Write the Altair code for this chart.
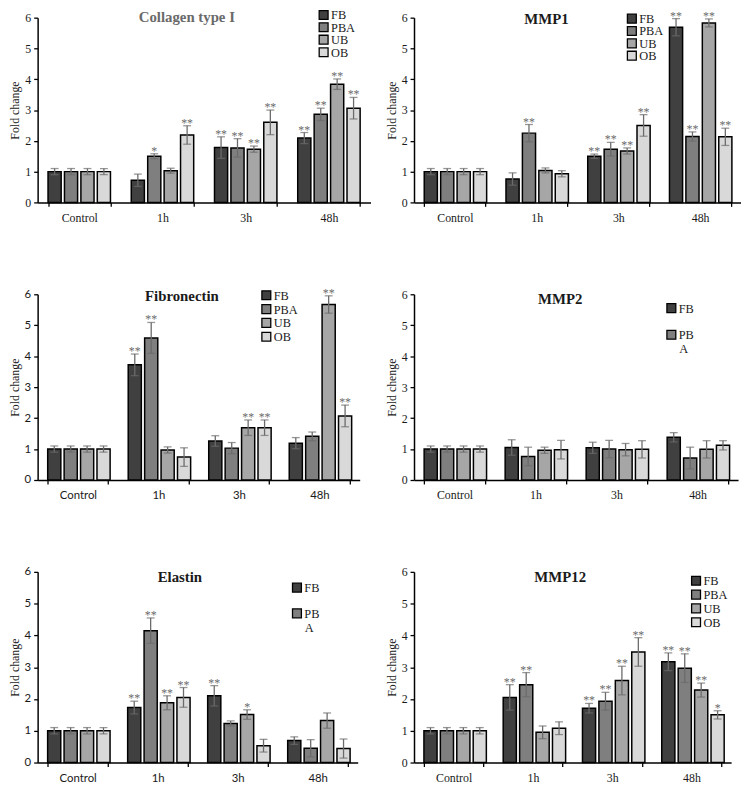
import altair as alt
import pandas as pd

times = ["Control", "1h", "3h", "48h"]
series = ["FB", "PBA", "UB", "OB"]
bar_colors = ["#404040", "#7f7f7f", "#a6a6a6", "#d9d9d9"]

# ---- values per panel: time -> [FB, PBA, UB, OB]
collagen_vals = {"Control": [1, 1, 1, 1], "1h": [0.72, 1.50, 1.03, 2.19],
                 "3h": [1.78, 1.77, 1.73, 2.60], "48h": [2.09, 2.86, 3.84, 3.06]}
collagen_err = {"Control": [0.1, 0.1, 0.1, 0.1], "1h": [0.2, 0.08, 0.08, 0.3],
                "3h": [0.35, 0.3, 0.1, 0.4], "48h": [0.18, 0.2, 0.17, 0.35]}
collagen_star = {"Control": ["", "", "", ""], "1h": ["", "*", "", "**"],
                 "3h": ["**", "**", "**", "**"], "48h": ["**", "**", "**", "**"]}

mmp1_vals = {"Control": [1, 1, 1, 1], "1h": [0.76, 2.25, 1.04, 0.93],
             "3h": [1.50, 1.73, 1.67, 2.50], "48h": [5.69, 2.14, 5.83, 2.13]}
mmp1_err = {"Control": [0.1, 0.1, 0.1, 0.1], "1h": [0.2, 0.28, 0.08, 0.1],
            "3h": [0.07, 0.22, 0.1, 0.35], "48h": [0.28, 0.15, 0.13, 0.28]}
mmp1_star = {"Control": ["", "", "", ""], "1h": ["", "**", "", ""],
             "3h": ["**", "**", "**", "**"], "48h": ["**", "**", "**", "**"]}

fibro_vals = {"Control": [1, 1, 1, 1], "1h": [3.72, 4.59, 0.97, 0.74],
              "3h": [1.26, 1.03, 1.69, 1.69], "48h": [1.19, 1.41, 5.67, 2.07]}
fibro_err = {"Control": [0.1, 0.1, 0.1, 0.1], "1h": [0.35, 0.5, 0.1, 0.3],
             "3h": [0.17, 0.18, 0.25, 0.25], "48h": [0.18, 0.14, 0.28, 0.35]}
fibro_star = {"Control": ["", "", "", ""], "1h": ["**", "**", "", ""],
              "3h": ["", "", "**", "**"], "48h": ["", "", "**", "**"]}

mmp2_vals = {"Control": [1, 1, 1, 1], "1h": [1.05, 0.76, 0.96, 0.98],
             "3h": [1.04, 1.00, 0.98, 0.99], "48h": [1.38, 0.71, 0.99, 1.12]}
mmp2_err = {"Control": [0.1, 0.1, 0.1, 0.1], "1h": [0.25, 0.3, 0.1, 0.3],
            "3h": [0.18, 0.28, 0.2, 0.28], "48h": [0.15, 0.35, 0.28, 0.15]}
mmp2_star = {"Control": ["", "", "", ""], "1h": ["", "", "", ""],
             "3h": ["", "", "", ""], "48h": ["", "", "", ""]}

elastin_vals = {"Control": [1, 1, 1, 1], "1h": [1.73, 4.15, 1.88, 2.05],
                "3h": [2.10, 1.23, 1.51, 0.53], "48h": [0.69, 0.45, 1.32, 0.44]}
elastin_err = {"Control": [0.1, 0.1, 0.1, 0.1], "1h": [0.2, 0.4, 0.22, 0.31],
               "3h": [0.32, 0.08, 0.15, 0.2], "48h": [0.12, 0.27, 0.24, 0.3]}
elastin_star = {"Control": ["", "", "", ""], "1h": ["**", "**", "**", "**"],
                "3h": ["**", "", "*", ""], "48h": ["", "", "", ""]}

mmp12_vals = {"Control": [1, 1, 1, 1], "1h": [2.05, 2.45, 0.95, 1.08],
              "3h": [1.71, 1.93, 2.58, 3.48], "48h": [3.17, 2.97, 2.28, 1.50]}
mmp12_err = {"Control": [0.1, 0.1, 0.1, 0.1], "1h": [0.4, 0.38, 0.2, 0.2],
             "3h": [0.15, 0.28, 0.45, 0.45], "48h": [0.28, 0.45, 0.22, 0.13]}
mmp12_star = {"Control": ["", "", "", ""], "1h": ["**", "**", "", ""],
              "3h": ["**", "**", "**", "**"], "48h": ["**", "**", "**", "*"]}

SERIF = "Liberation Serif"
SANS = "Lato"
ERR_COLOR = "#6b6b6b"
TXT = "#1a1a1a"


def make_df(vals, errs, stars):
    rows = []
    for t in times:
        for i, s in enumerate(series):
            v = vals[t][i]
            e = errs[t][i]
            rows.append({"time": t, "series": s, "value": v,
                         "lo": v - e, "hi": v + e, "star": stars[t][i]})
    return pd.DataFrame(rows)


def one():
    return alt.Chart(pd.DataFrame({"k": [0]}))


def legend_layers(x0, rows, fs=12.5):
    """rows: list of (series_name, text, y_center, extra_line)"""
    layers = []
    cmap = dict(zip(series, bar_colors))
    for s, text, yc, extra in rows:
        layers.append(one().mark_rect(fill=cmap[s], stroke="black", strokeWidth=1.3).encode(
            x=alt.value(x0), x2=alt.value(x0 + 9), y=alt.value(yc - 4.5), y2=alt.value(yc + 4.5)))
        layers.append(one().mark_text(align="left", baseline="middle", font=SERIF,
                                      fontSize=fs, color=TXT).encode(
            x=alt.value(x0 + 12), y=alt.value(yc + 0.5), text=alt.value(text)))
        if extra:
            layers.append(one().mark_text(align="center", baseline="middle", font=SERIF,
                                          fontSize=fs, color=TXT).encode(
                x=alt.value(x0 + 17), y=alt.value(yc + 14.5), text=alt.value(extra)))
    return layers


def panel(title, vals, errs, stars, width, height, tick_font, tick_fs, title_color,
          title_x, title_y, legend, ytitle="Fold change"):
    df = make_df(vals, errs, stars)
    base = alt.Chart(df)
    x_axis = alt.Axis(title=None, labelAngle=0, tickBand="extent",
                      labelFont=tick_font, labelFontSize=tick_fs, labelColor=TXT,
                      labelPadding=6, tickSize=4, tickColor="black",
                      domainColor="black", domainWidth=1.5, tickWidth=1.3)
    y_axis = alt.Axis(title=ytitle, values=[0, 1, 2, 3, 4, 5, 6], grid=False,
                      labelOverlap=False,
                      labelFont=tick_font, labelFontSize=tick_fs, labelColor=TXT,
                      labelPadding=3, tickSize=4, tickColor="black", tickWidth=1.3,
                      domainColor="black", domainWidth=1.5,
                      titleFont=SERIF, titleFontSize=12, titleFontWeight="normal",
                      titleColor=TXT, titlePadding=3)
    x_scale = alt.Scale(paddingInner=0.25, paddingOuter=0.125)
    x = alt.X("time:N", sort=times, scale=x_scale, axis=x_axis)
    xo = alt.XOffset("series:N", sort=series, scale=alt.Scale(paddingInner=0.2))
    y_scale = alt.Scale(domain=[0, 6], nice=False)

    def yy(field):
        return alt.Y(field, type="quantitative", scale=y_scale, axis=y_axis)

    bars = base.mark_bar(stroke="black", strokeWidth=1.5).encode(
        x=x, xOffset=xo, y=yy("value"),
        color=alt.Color("series:N", scale=alt.Scale(domain=series, range=bar_colors),
                        legend=None))
    err = base.mark_rule(color=ERR_COLOR, strokeWidth=1.3).encode(
        x=x, xOffset=xo, y=yy("lo"), y2="hi:Q")
    cap_lo = base.mark_tick(color=ERR_COLOR, thickness=1.3, size=8).encode(
        x=x, xOffset=xo, y=yy("lo"))
    cap_hi = base.mark_tick(color=ERR_COLOR, thickness=1.3, size=8).encode(
        x=x, xOffset=xo, y=yy("hi"))
    star = base.mark_text(font=SERIF, fontSize=12, color=ERR_COLOR, baseline="alphabetic",
                          dy=1).encode(
        x=x, xOffset=xo, y=yy("hi"), text="star:N")
    ttl = one().mark_text(font=SERIF, fontSize=15, fontWeight="bold", color=title_color,
                          baseline="middle", align="center").encode(
        x=alt.value(title_x), y=alt.value(title_y), text=alt.value(title))
    layers = legend + [bars, err, cap_lo, cap_hi, star, ttl]
    return alt.layer(*layers).properties(width=width, height=height)


p1 = panel("Collagen type I", collagen_vals, collagen_err, collagen_star, 337, 187, SERIF, 12,
           "#6a6a6a", 151, -1,
           legend_layers(285, [("FB", "FB", -2.7, None), ("PBA", "PBA", 9.7, None),
                               ("UB", "UB", 22.3, None), ("OB", "OB", 35, None)]))
p2 = panel("MMP1", mmp1_vals, mmp1_err, mmp1_star, 331, 187, SERIF, 12,
           TXT, 134, 1,
           legend_layers(216, [("FB", "FB", 1, None), ("PBA", "PBA", 13.5, None),
                               ("UB", "UB", 26, None), ("OB", "OB", 38.5, None)]))
p3 = panel("Fibronectin", fibro_vals, fibro_err, fibro_star, 326, 188, SANS, 11.5,
           TXT, 146, 2,
           legend_layers(227, [("FB", "FB", 1, None), ("PBA", "PBA", 15, None),
                               ("UB", "UB", 29, None), ("OB", "OB", 43, None)]))
p4 = panel("MMP2", mmp2_vals, mmp2_err, mmp2_star, 328, 188, SERIF, 12,
           TXT, 148, 5,
           legend_layers(256, [("FB", "FB", 14, None), ("PBA", "PB", 41, "A")]),
           ytitle="Fold chenge")
p5 = panel("Elastin", elastin_vals, elastin_err, elastin_star, 324, 193, SANS, 11.5,
           TXT, 144, 5,
           legend_layers(258, [("FB", "FB", 16, None), ("PBA", "PB", 42, "A")]))
p6 = panel("MMP12", mmp12_vals, mmp12_err, mmp12_star, 321, 193, SERIF, 12,
           TXT, 148, 5,
           legend_layers(281, [("FB", "FB", 9, None), ("PBA", "PBA", 23, None),
                               ("UB", "UB", 37, None), ("OB", "OB", 51, None)]))

chart = alt.concat(p1, p2, p3, p4, p5, p6, columns=2, bounds="flush",
                   spacing={"row": 93, "column": 44}).properties(
    padding={"left": 0, "top": -4, "right": 0, "bottom": 0},
    background="white"
).configure_view(stroke=None)

chart.save("out.html", embed_options={"renderer": "svg", "actions": False})
